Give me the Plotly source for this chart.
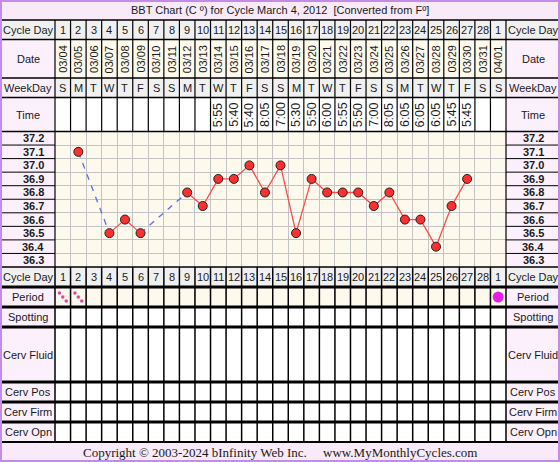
import plotly.graph_objects as go

# ---------------- data ----------------
cycle_days = [str(d) for d in range(1, 29)] + ["1"]
dates = ["03/04", "03/05", "03/06", "03/07", "03/08", "03/09", "03/10", "03/11", "03/12", "03/13",
         "03/14", "03/15", "03/16", "03/17", "03/18", "03/19", "03/20", "03/21", "03/22", "03/23",
         "03/24", "03/25", "03/26", "03/27", "03/28", "03/29", "03/30", "03/31", "04/01"]
weekdays = ["S", "M", "T", "W", "T", "F", "S", "S", "M", "T", "W", "T", "F", "S", "S",
            "M", "T", "W", "T", "F", "S", "S", "M", "T", "W", "T", "F", "S", "S"]
times = ["", "", "", "", "", "", "", "", "", "", "5:55", "5:40", "5:40", "8:05", "7:00",
         "5:30", "5:50", "6:00", "5:55", "5:50", "7:00", "8:05", "6:05", "6:05", "6:05",
         "5:45", "5:45", "", ""]
temps = [None, 37.1, None, 36.5, 36.6, 36.5, None, None, 36.8, 36.7, 36.9, 36.9, 37.0, 36.8,
         37.0, 36.5, 36.9, 36.8, 36.8, 36.8, 36.7, 36.8, 36.6, 36.6, 36.4, 36.7, 36.9, None, None]
temp_labels = ["37.2", "37.1", "37.0", "36.9", "36.8", "36.7", "36.6", "36.5", "36.4", "36.3"]
period_light_cols = [1, 2]
period_heavy_cols = [29]
left_rows_bottom = ["Cycle Day", "Period", "Spotting", "Cerv Fluid", "Cerv Pos", "Cerv Firm", "Cerv Opn"]
title_text = "BBT Chart (C º) for Cycle March 4, 2012  [Converted from Fº]"
copyright_text = "Copyright © 2003-2024 bInfinity Web Inc.     www.MyMonthlyCycles.com"

# ---------------- layout geometry ----------------
W, H = 560, 462
N = len(cycle_days)
X0, X1 = 55.0, 506.0
CW = (X1 - X0) / N
LX, RX = 28, 533          # label column centres

def px(x): return x / W
def py(y): return 1 - y / H

Y_TITLE = (0, 20)
Y_CD = (20, 39.5)
Y_DATE = (39.5, 78)
Y_WD = (78, 97.5)
Y_TIME = (97.5, 131.5)
Y_TEMP = (131.5, 267)
bottom_bounds = [267, 287, 307, 327, 382, 402, 422, 442]
Y_COPY = (442, 462)

TEXT = "#1a1a1a"
PINK = "#fdf0fd"
LAV = "#f8eaf8"
GRAY = "#f0f0f0"
CREAM = "#fdf9ec"
PURPLE = "#c48ce8"
SANS = "Liberation Sans, Arial, sans-serif"

shapes = []
annotations = []

def rect(x0, y0, x1, y1, fill):
    shapes.append(dict(type="rect", xref="paper", yref="paper", x0=px(x0), x1=px(x1),
                       y0=py(y1), y1=py(y0), fillcolor=fill, line=dict(width=0), layer="below"))

def hline(y, x0, x1, w=1.0, color="black"):
    shapes.append(dict(type="line", xref="paper", yref="paper", x0=px(x0), x1=px(x1),
                       y0=py(y), y1=py(y), line=dict(color=color, width=w)))

def vline(x, y0, y1, w=1.0, color="black"):
    shapes.append(dict(type="line", xref="paper", yref="paper", x0=px(x), x1=px(x),
                       y0=py(y0), y1=py(y1), line=dict(color=color, width=w)))

def text(x, y, s, size=11, bold=False, xref="paper", yref="paper", angle=0, family=SANS, color=TEXT):
    if bold:
        s = "<b>" + s + "</b>"
    annotations.append(dict(x=x, y=y, xref=xref, yref=yref, text=s, showarrow=False,
                            textangle=angle, xanchor="center", yanchor="middle",
                            font=dict(size=size, family=family, color=color)))

# ---------------- background fills ----------------
rect(0, Y_TITLE[0], W, Y_TITLE[1], LAV)
rect(0, Y_COPY[0], W, Y_COPY[1], LAV)
for xa, xb in [(0, X0), (X1, W)]:
    rect(xa, Y_CD[0], xb, Y_CD[1], GRAY)
    rect(xa, Y_DATE[0], xb, Y_TEMP[1], PINK)
    rect(xa, bottom_bounds[0], xb, bottom_bounds[1], GRAY)
    rect(xa, bottom_bounds[1], xb, bottom_bounds[-1], PINK)
rect(X0, Y_CD[0], X1, Y_CD[1], GRAY)
rect(X0, Y_DATE[0], X1, Y_DATE[1], CREAM)
rect(X0, Y_WD[0], X1, Y_WD[1], GRAY)
rect(X0, bottom_bounds[0], X1, bottom_bounds[1], GRAY)

# ---------------- header texts ----------------
text(px(280), py(10), title_text, size=11)
for lbl_x in (LX, RX):
    text(px(lbl_x), py(30), "Cycle Day", size=11)
    text(px(lbl_x), py(59), "Date", size=11)
    text(px(lbl_x), py(88), "WeekDay", size=11)
    text(px(lbl_x), py(115), "Time", size=11)
    for name, (ya, yb) in zip(left_rows_bottom, zip(bottom_bounds[:-1], bottom_bounds[1:])):
        text(px(lbl_x), py((ya + yb) / 2), name, size=11)
    for t in temp_labels:
        text(px(lbl_x + (5 if lbl_x == LX else 0)), float(t), t, size=11, bold=True, yref="y")

for i in range(N):
    col = i + 1
    text(col, py(30), cycle_days[i], size=11, xref="x")
    text(col, py(277), cycle_days[i], size=11, xref="x")
    text(col, py(59), dates[i], size=11, xref="x", angle=-90)
    text(col, py(88), weekdays[i], size=11, xref="x")
    if times[i]:
        text(col, py(115), times[i], size=12.5, xref="x", angle=-90)

text(px(280), py(452), copyright_text, size=13, family="Liberation Serif, Times New Roman, serif")

# ---------------- grid / table lines ----------------
for k in range(N + 1):
    x = X0 + k * CW
    vline(x, Y_CD[0], Y_TIME[1], 1.2)
    vline(x, bottom_bounds[0], bottom_bounds[-1], 1.5)
vline(X0, Y_TEMP[0], Y_TEMP[1], 1.2)
vline(X1, Y_TEMP[0], Y_TEMP[1], 1.2)

for y in [Y_TITLE[1], Y_CD[1], Y_DATE[1], Y_WD[1], Y_TIME[1]]:
    hline(y, 0, W, 1.5)
for j, y in enumerate(bottom_bounds):
    w = 1.5 if j == 0 else (2 if j == len(bottom_bounds) - 1 else 3)
    hline(y, 0, W, w)
# temperature label row separators (in the data scale)
temp_vals = [float(t) for t in temp_labels]
for t in temp_vals[:-1]:
    for xa, xb in [(0, X0), (X1, W)]:
        shapes.append(dict(type="line", xref="paper", yref="y", x0=px(xa), x1=px(xb),
                           y0=t - 0.05, y1=t - 0.05, line=dict(color="black", width=1)))

# outer purple frame
shapes.append(dict(type="rect", xref="paper", yref="paper", x0=px(1), x1=px(W - 1),
                   y0=py(H - 1), y1=py(1), line=dict(color=PURPLE, width=2)))

# ---------------- traces ----------------
cols = list(range(1, N + 1))
fig = go.Figure()

# dashed connectors across missing days
gx, gy = [], []
known = [(c, t) for c, t in zip(cols, temps) if t is not None]
for (c1, t1), (c2, t2) in zip(known[:-1], known[1:]):
    if c2 - c1 > 1:
        gx += [c1, c2, None]
        gy += [t1, t2, None]
fig.add_trace(go.Scatter(x=gx, y=gy, mode="lines", line=dict(color="#5a6cf0", width=1.3, dash="6px,6px"),
                         hoverinfo="skip", showlegend=False))
fig.add_trace(go.Scatter(x=cols, y=temps, mode="lines+markers", connectgaps=False,
                         line=dict(color="#ff4a4a", width=1.3),
                         marker=dict(size=9, color="#ff2f2f", line=dict(color="#202020", width=1)),
                         showlegend=False))

# period markers on a separate row axis
lx, ly = [], []
for c in period_light_cols:
    for dx, dy in [(-0.22, 0.7), (0.0, 0.5), (0.22, 0.3)]:
        lx.append(c + dx)
        ly.append(dy)
fig.add_trace(go.Scatter(x=lx, y=ly, yaxis="y2", mode="markers",
                         marker=dict(size=3.5, color="#e8449c"), showlegend=False, hoverinfo="skip"))
fig.add_trace(go.Scatter(x=period_heavy_cols, y=[0.5] * len(period_heavy_cols), yaxis="y2", mode="markers",
                         marker=dict(size=11, color="#e51ee5"), showlegend=False, hoverinfo="skip"))

fig.update_layout(
    width=W, height=H, margin=dict(l=0, r=0, t=0, b=0),
    paper_bgcolor="white", plot_bgcolor=CREAM,
    xaxis=dict(domain=[px(X0), px(X1)], range=[0.5, N + 0.5], tick0=0.5, dtick=1,
               showgrid=True, gridcolor="#c4c4c4", gridwidth=1, showticklabels=False,
               zeroline=False, ticks="", fixedrange=True),
    yaxis=dict(domain=[py(Y_TEMP[1]), py(Y_TEMP[0])], range=[36.25, 37.25], tick0=36.25, dtick=0.1,
               showgrid=True, gridcolor="#c4c4c4", gridwidth=1, showticklabels=False,
               zeroline=False, ticks="", fixedrange=True),
    yaxis2=dict(domain=[py(307), py(287)], range=[0, 1], anchor="x",
                showgrid=False, showticklabels=False, zeroline=False, ticks="", fixedrange=True),
    shapes=shapes, annotations=annotations,
)

fig.write_html("out.html", config={"displayModeBar": False},
               post_script="document.body.style.margin='0';document.body.style.overflow='hidden';")
